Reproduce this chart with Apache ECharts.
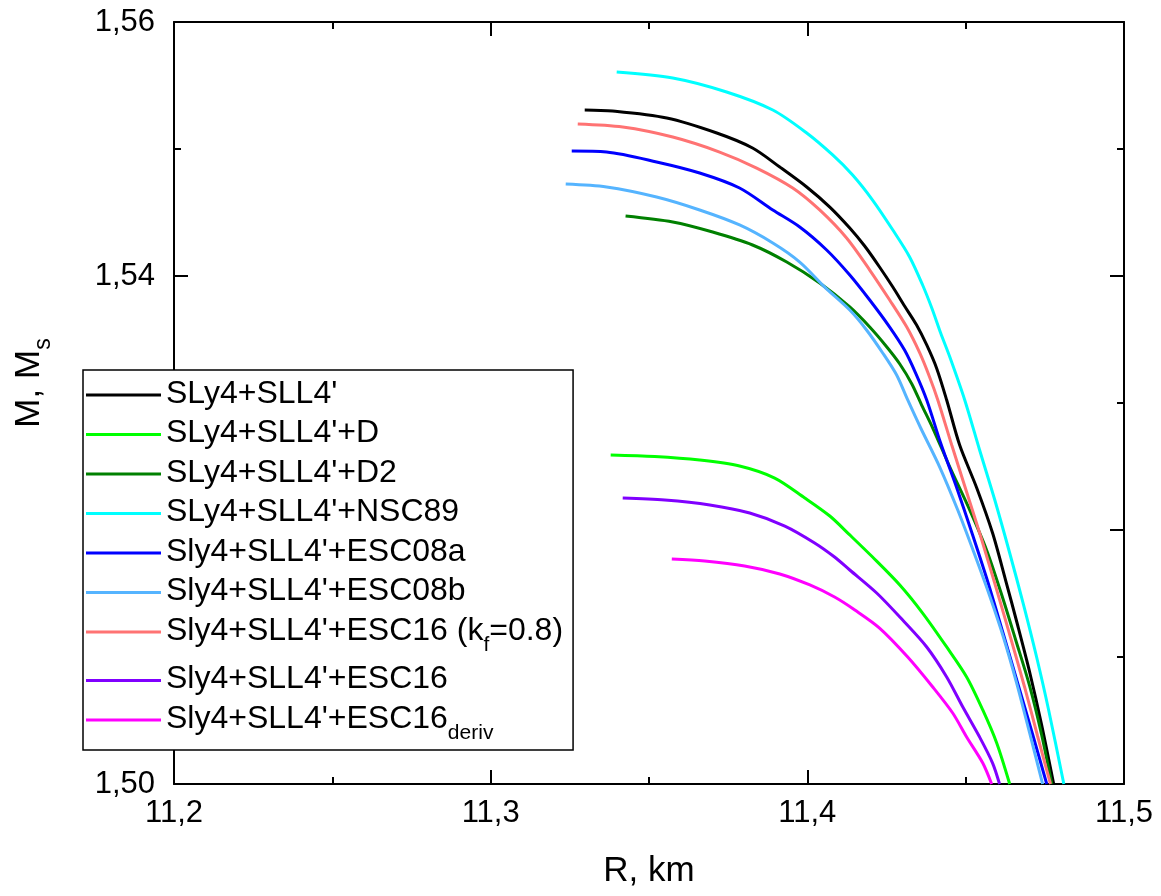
<!DOCTYPE html>
<html>
<head>
<meta charset="utf-8">
<script src="https://cdn.jsdelivr.net/npm/echarts@6/dist/echarts.min.js"></script>
<style>
html,body{margin:0;padding:0;background:#fff;}
#chart{width:1161px;height:896px;}
</style>
</head>
<body>
<div id="chart"></div>
<script>
// ---- data (R in km, M in solar masses) ----
const seriesNames = ["SLy4+SLL4'", "SLy4+SLL4'+D", "SLy4+SLL4'+D2", "SLy4+SLL4'+NSC89",
  "Sly4+SLL4'+ESC08a", "Sly4+SLL4'+ESC08b", "Sly4+SLL4'+ESC16 (kf=0.8)", "Sly4+SLL4'+ESC16", "Sly4+SLL4'+ESC16deriv"];
const legendLabels = ["{n|SLy4+SLL4'}", "{n|SLy4+SLL4'+D}", "{n|SLy4+SLL4'+D2}", "{n|SLy4+SLL4'+NSC89}",
  "{n|Sly4+SLL4'+ESC08a}", "{n|Sly4+SLL4'+ESC08b}", "{n|Sly4+SLL4'+ESC16 (k}{s|f}{n|=0.8)}", "{n|Sly4+SLL4'+ESC16}", "{n|Sly4+SLL4'+ESC16}{s|deriv}"];
const seriesColors = ['#000000', '#00ff00', '#008000', '#00ffff', '#0000ff', '#55b4ff', '#ff7373', '#8000ff', '#ff00ff'];

const rSLy4 = [11.3297,11.3385,11.3556,11.3714,11.3827,11.3913,11.3998,11.4071,11.4134,11.4181,11.4228,11.4270,11.4307,11.4345,11.4377,11.4408,11.4440,11.4481,11.4535,11.4585,11.4626,11.4664,11.4702,11.4740,11.4778];
const mSLy4 = [1.55307,1.55299,1.55244,1.55126,1.55008,1.54858,1.54701,1.54543,1.54378,1.54236,1.54071,1.53913,1.53764,1.53614,1.53457,1.53276,1.53024,1.52669,1.52331,1.51976,1.51606,1.51252,1.50882,1.50465,1.50000];

const rD = [11.3379,11.3518,11.3660,11.3786,11.3897,11.3992,11.4071,11.4134,11.4206,11.4292,11.4364,11.4440,11.4503,11.4554,11.4598,11.4639];
const mD = [1.52591,1.52579,1.52551,1.52504,1.52409,1.52252,1.52110,1.51961,1.51787,1.51567,1.51346,1.51079,1.50843,1.50583,1.50323,1.50000];

const rD2 = [11.3426,11.3575,11.3701,11.3827,11.3935,11.4039,11.4134,11.4197,11.4251,11.4292,11.4330,11.4361,11.4396,11.4450,11.4513,11.4566,11.4614,11.4658,11.4702,11.4740,11.4772];
const mD2 = [1.54472,1.54425,1.54346,1.54244,1.54110,1.53945,1.53756,1.53598,1.53441,1.53307,1.53150,1.52984,1.52803,1.52496,1.52157,1.51843,1.51488,1.51134,1.50772,1.50386,1.50000];

const rNSC89 = [11.3398,11.3575,11.3745,11.3891,11.3998,11.4080,11.4143,11.4206,11.4270,11.4323,11.4364,11.4393,11.4421,11.4450,11.4497,11.4544,11.4592,11.4639,11.4683,11.4724,11.4762,11.4810];
const mNSC89 = [1.55606,1.55559,1.55449,1.55307,1.55126,1.54953,1.54795,1.54598,1.54362,1.54150,1.53929,1.53748,1.53551,1.53362,1.53024,1.52630,1.52236,1.51819,1.51409,1.51000,1.50583,1.50000];

const rESC08a = [11.3256,11.3366,11.3524,11.3660,11.3786,11.3891,11.3976,11.4061,11.4134,11.4197,11.4260,11.4307,11.4342,11.4377,11.4421,11.4472,11.4522,11.4570,11.4617,11.4664,11.4712,11.4756];
const mESC08a = [1.54984,1.54976,1.54898,1.54811,1.54693,1.54520,1.54386,1.54205,1.54008,1.53811,1.53598,1.53417,1.53236,1.53024,1.52685,1.52331,1.51961,1.51591,1.51197,1.50795,1.50386,1.50000];

const rESC08b = [11.3237,11.3366,11.3524,11.3660,11.3786,11.3891,11.3976,11.4055,11.4134,11.4187,11.4238,11.4282,11.4317,11.4358,11.4418,11.4475,11.4529,11.4576,11.4620,11.4661,11.4702,11.4743];
const mESC08b = [1.54724,1.54701,1.54622,1.54520,1.54402,1.54260,1.54110,1.53913,1.53732,1.53575,1.53394,1.53220,1.53024,1.52803,1.52496,1.52157,1.51803,1.51480,1.51150,1.50795,1.50402,1.50000];

const rESC16kf = [11.3275,11.3417,11.3575,11.3723,11.3840,11.3954,11.4039,11.4124,11.4197,11.4260,11.4314,11.4355,11.4386,11.4412,11.4456,11.4503,11.4551,11.4598,11.4642,11.4686,11.4727,11.4768];
const mESC16kf = [1.55197,1.55173,1.55094,1.54976,1.54850,1.54693,1.54520,1.54299,1.54047,1.53811,1.53598,1.53394,1.53205,1.53024,1.52669,1.52299,1.51921,1.51528,1.51150,1.50764,1.50378,1.50000];

const rESC16 = [11.3417,11.3550,11.3692,11.3818,11.3929,11.4023,11.4086,11.4134,11.4219,11.4301,11.4377,11.4440,11.4491,11.4544,11.4585,11.4607];
const mESC16 = [1.52252,1.52236,1.52197,1.52134,1.52031,1.51898,1.51787,1.51685,1.51504,1.51291,1.51079,1.50843,1.50606,1.50370,1.50165,1.50000];

const rESC16d = [11.3572,11.3676,11.3802,11.3913,11.4008,11.4086,11.4150,11.4228,11.4317,11.4396,11.4459,11.4503,11.4554,11.4582];
const mESC16d = [1.51772,1.51756,1.51717,1.51654,1.51567,1.51472,1.51370,1.51228,1.51000,1.50764,1.50559,1.50370,1.50165,1.50000];

const xTicks = {min: 11.2, max: 11.5, interval: 0.1};
const yTicks = {min: 1.50, max: 1.56, interval: 0.02};

// ---- build ----
const rLists = [rSLy4, rD, rD2, rNSC89, rESC08a, rESC08b, rESC16kf, rESC16, rESC16d];
const mLists = [mSLy4, mD, mD2, mNSC89, mESC08a, mESC08b, mESC16kf, mESC16, mESC16d];

const FONT = '"Liberation Sans", Arial, sans-serif';

const chart = echarts.init(document.getElementById('chart'), null, {renderer: 'canvas'});

const axisLineStyle = {color: '#000', width: 2};
function xAxisCfg(pos, showLabel) {
  return {
    type: 'value', position: pos, min: xTicks.min, max: xTicks.max, interval: xTicks.interval,
    axisLine: {show: true, onZero: false, lineStyle: axisLineStyle},
    axisTick: {show: true, inside: true, length: 14, lineStyle: {color: '#000', width: 2}},
    minorTick: {show: true, splitNumber: 2, length: 7, lineStyle: {color: '#000', width: 2}},
    splitLine: {show: false},
    axisLabel: {show: showLabel, margin: 14, color: '#000', fontSize: 31, fontFamily: FONT,
      formatter: v => v.toFixed(1).replace('.', ',')},
    name: showLabel ? 'R, km' : '',
    nameLocation: 'middle', nameGap: 70,
    nameTextStyle: {color: '#000', fontSize: 35, fontFamily: FONT}
  };
}
function yAxisCfg(pos, showLabel) {
  return {
    type: 'value', position: pos, min: yTicks.min, max: yTicks.max, interval: yTicks.interval,
    axisLine: {show: true, onZero: false, lineStyle: axisLineStyle},
    axisTick: {show: true, inside: true, length: 14, lineStyle: {color: '#000', width: 2}},
    minorTick: {show: true, splitNumber: 2, length: 7, lineStyle: {color: '#000', width: 2}},
    splitLine: {show: false},
    axisLabel: {show: showLabel, margin: 19, color: '#000', fontSize: 31, fontFamily: FONT,
      formatter: v => v.toFixed(2).replace('.', ',')},
    name: showLabel ? '{n|M, M}{s|s}' : '',
    nameLocation: 'middle', nameGap: 124, nameRotate: 90,
    nameTextStyle: {
      color: '#000', fontFamily: FONT, padding: [0, 0, 0, 40],
      rich: {
        n: {fontSize: 35, fontFamily: FONT, color: '#000', lineHeight: 38, verticalAlign: 'top'},
        s: {fontSize: 23, fontFamily: FONT, color: '#000', lineHeight: 24, padding: [20, 0, 0, 0], verticalAlign: 'top'}
      }
    }
  };
}

const series = seriesNames.map((name, i) => ({
  name: name,
  type: 'line',
  data: rLists[i].map((r, j) => [r, mLists[i][j]]),
  showSymbol: false,
  symbol: 'none',
  smooth: 0.3,
  lineStyle: {color: seriesColors[i], width: 3},
  itemStyle: {color: seriesColors[i]},
  xAxisIndex: 0, yAxisIndex: 0,
  z: 2
}));

const option = {
  animation: false,
  backgroundColor: '#ffffff',
  grid: {left: 174, right: 37, top: 22, bottom: 112, containLabel: false, outerBoundsMode: 'none'},
  xAxis: [xAxisCfg('bottom', true), xAxisCfg('top', false)],
  yAxis: [yAxisCfg('left', true), yAxisCfg('right', false)],
  legend: {
    show: true, orient: 'vertical', left: 83, top: 370,
    data: seriesNames,
    icon: 'rect', itemWidth: 75, itemHeight: 3, itemGap: 7.5,
    padding: [8, 10, 6, 3],
    backgroundColor: '#ffffff', borderColor: '#000', borderWidth: 1.5, borderRadius: 0,
    selectedMode: false,
    formatter: name => legendLabels[seriesNames.indexOf(name)],
    textStyle: {
      color: '#000', fontFamily: FONT, fontSize: 32,
      rich: {
        n: {fontSize: 32, fontFamily: FONT, color: '#000', lineHeight: 34, verticalAlign: 'top'},
        s: {fontSize: 21, fontFamily: FONT, color: '#000', lineHeight: 22, padding: [20, 0, 0, 0], verticalAlign: 'top'}
      }
    },
    z: 10
  },
  series: series
};
chart.setOption(option);
</script>
</body>
</html>
